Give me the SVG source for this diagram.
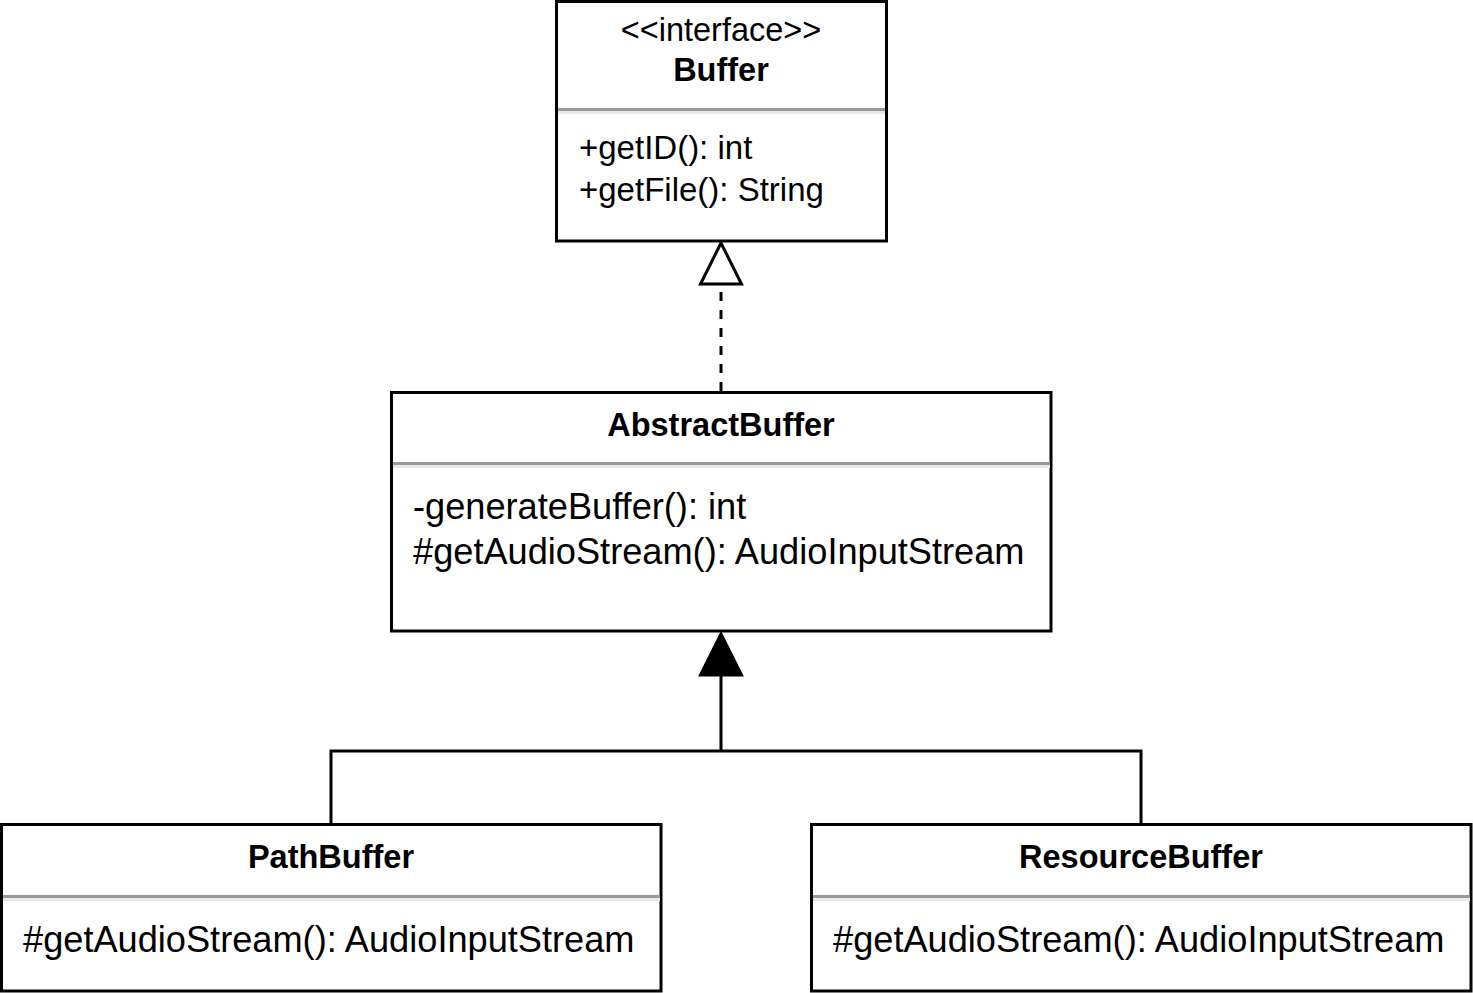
<svg xmlns="http://www.w3.org/2000/svg" width="1473" height="993" viewBox="0 0 1473 993">
<style>
.box{fill:#fff;stroke:#000;stroke-width:3}
.div1{stroke:#999;stroke-width:3}
.div2{stroke:#e8e8e8;stroke-width:3}
.t{font-family:"Liberation Sans",Arial,sans-serif;fill:#000}
.title{font-weight:bold;font-size:32.5px;text-anchor:middle}
.ster{font-size:32.5px;text-anchor:middle}
.m1{font-size:33px}
.m2{font-size:36.2px}
.ln{fill:none;stroke:#000;stroke-width:3}
</style>
<rect width="1473" height="993" fill="#fff"/>
<g id="connectors">
<path class="ln" d="M721 391 V284" stroke-dasharray="9 9"/>
<polygon points="721,243 700.5,284 741.5,284" fill="#fff" stroke="#000" stroke-width="3" stroke-linejoin="miter"/>
<path class="ln" d="M331 824 V751 H1141 V824 M721 751 V674"/>
<polygon points="721,634 700.5,675 741.5,675" fill="#000" stroke="#000" stroke-width="3"/>
</g>
<g id="Buffer">
<rect class="box" x="556.5" y="1.5" width="330" height="239.5"/>
<line class="div1" x1="558" y1="109.5" x2="885" y2="109.5"/>
<line class="div2" x1="558" y1="112.5" x2="885" y2="112.5"/>
<text class="t ster" x="721" y="41">&lt;&lt;interface&gt;&gt;</text>
<text class="t title" x="721" y="81">Buffer</text>
<text class="t m1" x="579" y="159">+getID(): int</text>
<text class="t m1" x="579" y="201">+getFile(): String</text>
</g>
<g id="AbstractBuffer">
<rect class="box" x="391.5" y="392.5" width="659.5" height="238.5"/>
<line class="div1" x1="393" y1="463.5" x2="1050" y2="463.5"/>
<line class="div2" x1="393" y1="466.5" x2="1050" y2="466.5"/>
<text class="t title" x="721" y="436">AbstractBuffer</text>
<text class="t m2" x="413" y="519">-generateBuffer(): int</text>
<text class="t m2" x="413" y="564">#getAudioStream(): AudioInputStream</text>
</g>
<g id="PathBuffer">
<rect class="box" x="1.5" y="824.5" width="659.5" height="166.5"/>
<line class="div1" x1="3" y1="896.5" x2="660" y2="896.5"/>
<line class="div2" x1="3" y1="899.5" x2="660" y2="899.5"/>
<text class="t title" x="331" y="868">PathBuffer</text>
<text class="t m2" x="23" y="952">#getAudioStream(): AudioInputStream</text>
</g>
<g id="ResourceBuffer">
<rect class="box" x="811.5" y="824.5" width="659.5" height="166.5"/>
<line class="div1" x1="813" y1="896.5" x2="1470" y2="896.5"/>
<line class="div2" x1="813" y1="899.5" x2="1470" y2="899.5"/>
<text class="t title" x="1141" y="868">ResourceBuffer</text>
<text class="t m2" x="833" y="952">#getAudioStream(): AudioInputStream</text>
</g>
</svg>
